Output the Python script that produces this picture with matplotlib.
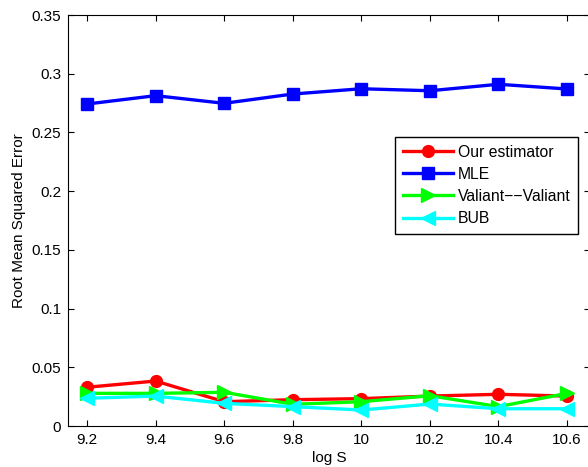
import matplotlib
matplotlib.use("Agg")
import matplotlib.pyplot as plt

plt.rcParams['font.family'] = ['Liberation Sans', 'DejaVu Sans']

log_s = [9.2, 9.4, 9.6, 9.8, 10.0, 10.2, 10.4, 10.6]
ours = [0.0330, 0.0383, 0.0207, 0.0224, 0.0233, 0.0255, 0.0270, 0.0255]
mle = [0.2742, 0.2813, 0.2748, 0.2827, 0.2872, 0.2855, 0.2910, 0.2870]
valiant = [0.0278, 0.0278, 0.0287, 0.0185, 0.0207, 0.0258, 0.0165, 0.0278]
bub = [0.0236, 0.0255, 0.0193, 0.0165, 0.0136, 0.0187, 0.0147, 0.0147]

xticks = [9.2, 9.4, 9.6, 9.8, 10, 10.2, 10.4, 10.6]
xticklabels = ['9.2', '9.4', '9.6', '9.8', '10', '10.2', '10.4', '10.6']
yticks = [0, 0.05, 0.1, 0.15, 0.2, 0.25, 0.3, 0.35]
yticklabels = ['0', '0.05', '0.1', '0.15', '0.2', '0.25', '0.3', '0.35']

fig = plt.figure(figsize=(5.88, 4.67), dpi=100)
ax = fig.add_axes([68/588, 41/467, 522/588, 411/467])

ax.plot(log_s, ours, color='#ff0000', lw=2.4, marker='o', ms=8.5, label='Our estimator')
ax.plot(log_s, mle, color='#0000ff', lw=2.4, marker='s', ms=8, label='MLE')
ax.plot(log_s, valiant, color='#00ff00', lw=2.4, marker='>', ms=10, label='Valiant−−Valiant')
ax.plot(log_s, bub, color='#00ffff', lw=2.4, marker='<', ms=10, label='BUB')

ax.set_xlim(9.2 - 19/342.9, 9.2 + 522/342.9 - 19/342.9)
ax.set_ylim(0, 0.35)
ax.set_xticks(xticks)
ax.set_xticklabels(xticklabels)
ax.set_yticks(yticks)
ax.set_yticklabels(yticklabels)
ax.tick_params(direction='in', top=True, right=True, labelsize=11, length=4, pad=5)
ax.set_xlabel('log S', fontsize=11, labelpad=3)
ax.set_ylabel('Root Mean Squared Error', fontsize=11, labelpad=4)

leg = ax.legend(loc='upper left', bbox_to_anchor=((395-68)/522, (426-137)/411),
                fontsize=11.3, frameon=True, fancybox=False, edgecolor='black',
                framealpha=1, borderaxespad=0, handlelength=3.2, labelspacing=0.45,
                borderpad=0.5, handletextpad=0.3)
leg.get_frame().set_linewidth(1.0)

fig.savefig('out.png', dpi=100)
